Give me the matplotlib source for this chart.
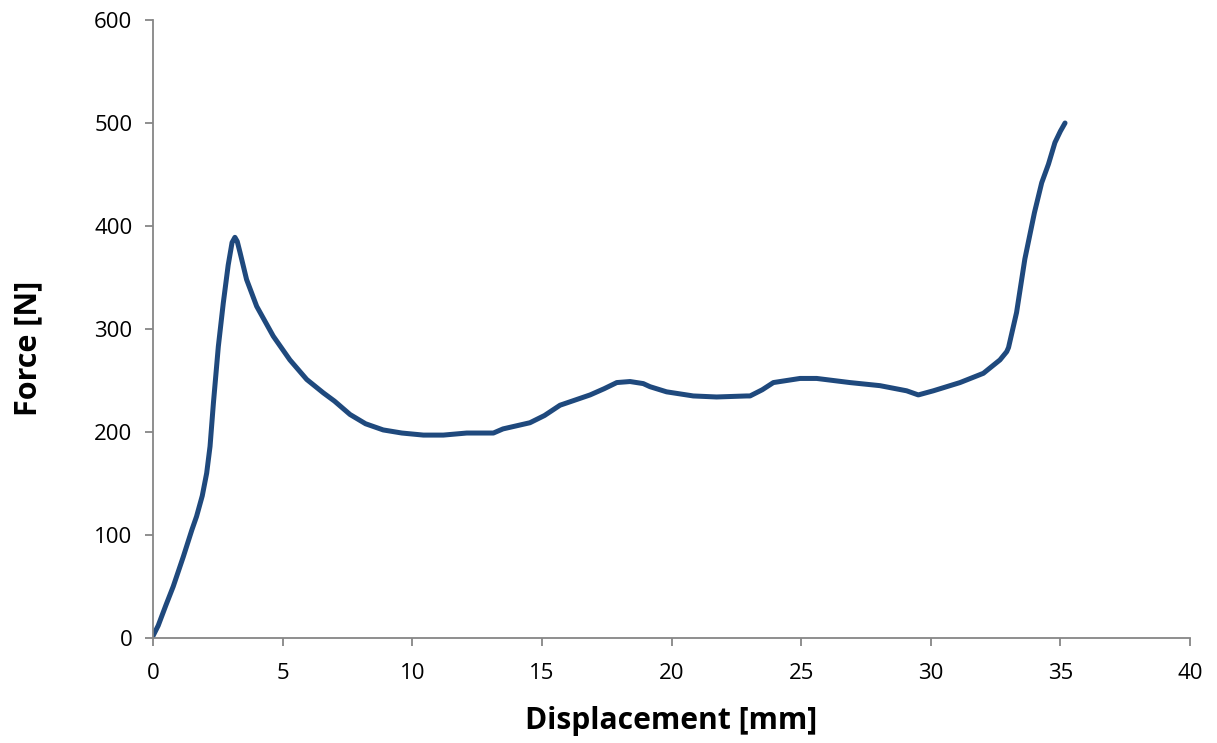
import matplotlib
matplotlib.use("Agg")
import matplotlib.pyplot as plt

displacement = [0.0, 0.2, 0.5, 0.78, 1.17, 1.5, 1.68, 1.9, 2.07, 2.2, 2.33, 2.52, 2.71, 2.9, 3.05,
                3.16, 3.25, 3.36, 3.61, 4.0, 4.64, 5.28, 5.93, 6.57, 7.0, 7.6, 8.2, 8.88, 9.6, 10.43,
                11.2, 12.1, 13.13, 13.5, 14.54, 15.1, 15.7, 16.86, 17.4, 17.89, 18.4, 18.91, 19.17,
                19.81, 20.84, 21.74, 22.9, 23.03, 23.5, 23.93, 24.96, 25.6, 26.88, 28.04, 29.07,
                29.52, 30.1, 31.13, 32.03, 32.67, 32.93, 33.0, 33.31, 33.63, 34.0, 34.28, 34.54,
                34.79, 35.0, 35.18]
force = [2, 12, 32, 50, 79, 105, 118, 138, 160, 186, 228, 283, 325, 362, 384,
         389, 385, 374, 348, 322, 293, 270, 251, 238, 230, 217, 208, 202, 199, 197,
         197, 199, 199, 203, 209, 216, 226, 236, 242, 248, 249, 247, 244,
         239, 235, 234, 235, 235, 241, 248, 252, 252, 248, 245, 240,
         236, 240, 248, 257, 270, 278, 282, 316, 368, 413, 442, 460,
         481, 492, 500]

x_ticks = [0, 5, 10, 15, 20, 25, 30, 35, 40]
y_ticks = [0, 100, 200, 300, 400, 500, 600]

plt.rcParams['font.family'] = ['Open Sans', 'DejaVu Sans']

W, H = 1217, 743
fig = plt.figure(figsize=(W / 100, H / 100), dpi=100)
x0, x1, y0, y1 = 153, 1190, 638, 20
ax = fig.add_axes([x0 / W, (H - y0) / H, (x1 - x0) / W, (y0 - y1) / H])

ax.plot(displacement, force, color='#1F497D', linewidth=3.6, solid_capstyle='round',
        solid_joinstyle='round')

ax.set_xlim(0, 40)
ax.set_ylim(0, 600)
ax.set_xticks(x_ticks)
ax.set_yticks(y_ticks)
ax.tick_params(axis='both', direction='out', length=5.8, width=1.3, color='#868686',
               labelsize=16, labelcolor='black')
ax.tick_params(axis='x', pad=12)
ax.tick_params(axis='y', pad=9)

for side in ['top', 'right']:
    ax.spines[side].set_visible(False)
for side in ['left', 'bottom']:
    ax.spines[side].set_color('#868686')
    ax.spines[side].set_linewidth(1.3)

ax.set_xlabel('Displacement [mm]', fontsize=21.6, fontweight='bold', va='center')
ax.xaxis.set_label_coords(0.5, (y0 - 721) / (y0 - y1))
ax.set_ylabel('Force [N]', fontsize=22, fontweight='bold', va='center')
ax.yaxis.set_label_coords((28 - x0) / (x1 - x0), (y0 - 348) / (y0 - y1))

fig.savefig('out.png', dpi=100)
